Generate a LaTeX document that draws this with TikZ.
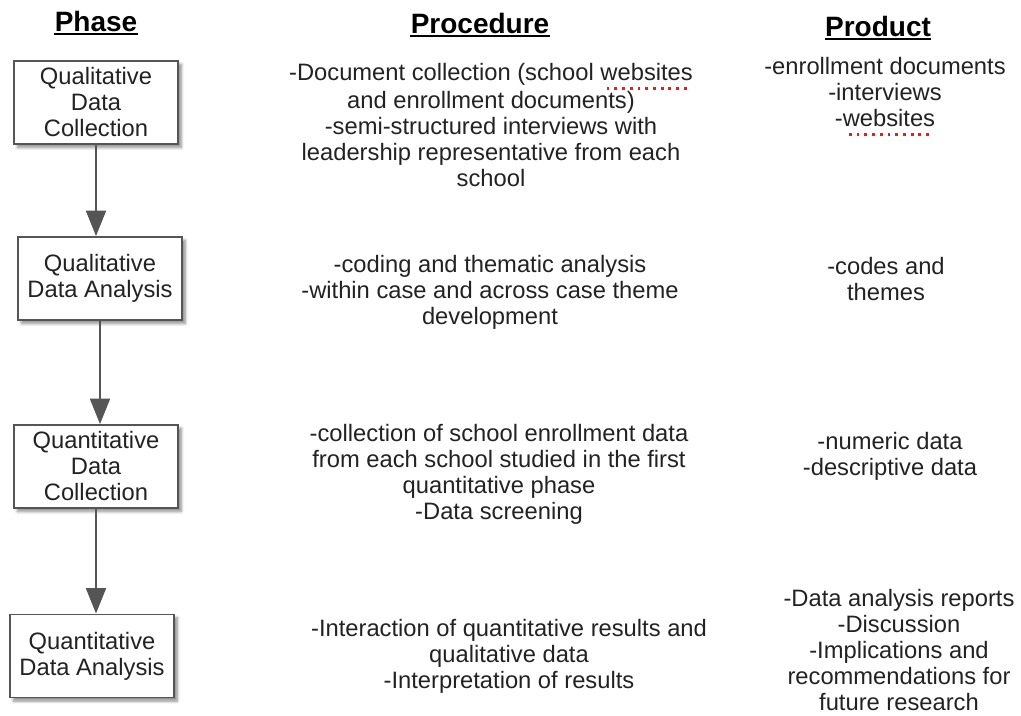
\documentclass[tikz,border=0pt]{standalone}
\usepackage{fontspec}
\setmainfont{Liberation Sans}
\usetikzlibrary{arrows.meta,shadows.blur}

\definecolor{inkgray}{HTML}{222222}
\definecolor{edgegray}{HTML}{555555}
\definecolor{spellred}{HTML}{E0201E}

% dotted red mark under a word
\newlength\squigwd
\newcommand\squig[1]{\settowidth\squigwd{#1}%
  \rlap{\color{spellred}\raisebox{-7pt}{\cleaders\hbox to 5.8pt{\hss\rule{2.1pt}{2.1pt}\hss}\hskip\squigwd}}#1}

\begin{document}
\begin{tikzpicture}[x=0.75pt,y=-0.75pt,
    every node/.style={text=inkgray,align=center,font=\fontsize{17.8pt}{19.5pt}\selectfont},
    phase node/.style={draw=edgegray,line width=1.2pt,fill=white,inner sep=2pt,
      minimum width=123pt,minimum height=62.5pt,
      blur shadow={shadow xshift=2.5pt,shadow yshift=-2.5pt,shadow blur steps=6,shadow opacity=45}},
    head node/.style={inner sep=0pt,anchor=base,text=black,
      font=\fontsize{21pt}{24pt}\selectfont\bfseries},
    flow/.style={draw=edgegray,line width=1.3pt,-{Triangle[width=15pt,length=19pt]}},
  ]
  \useasboundingbox (0,0) rectangle (1021,715);

  \node[head node] (hphase) at (96,31) {Phase};
  \node[head node] (hproc) at (480,33) {Procedure};
  \node[head node] (hprod) at (878,36) {Product};
  \foreach \h in {hphase,hproc,hprod}
    \draw[line width=1.5pt] ([yshift=-2.5pt]\h.base west) -- ([yshift=-2.5pt]\h.base east);

  \node[phase node] (ph1) at (96,102.5) {Qualitative\\Data\\Collection};
  \node[phase node] (ph2) at (100,278.5) {Qualitative\\Data Analysis};
  \node[phase node] (ph3) at (96,466.5) {Quantitative\\Data\\Collection};
  \node[phase node] (ph4) at (92,656) {Quantitative\\Data Analysis};
  \foreach \a/\b in {ph1/ph2,ph2/ph3,ph3/ph4}
    \draw[flow] (\a.south) -- (\a.south |- \b.north);

  \node (proc1) at (491,125) {-Document collection (school \squig{websites}\\and enrollment documents)\\-semi-structured interviews with\\leadership representative from each\\school};
  \node (proc2) at (490,292) {-coding and thematic analysis\\-within case and across case theme\\development};
  \node (proc3) at (499,474) {-collection of school enrollment data\\from each school studied in the first\\quantitative phase\\-Data screening};
  \node (proc4) at (509,656) {-Interaction of quantitative results and\\qualitative data\\-Interpretation of results};

  \node (prod1) at (885,97) {-enrollment documents\\-interviews\\-\squig{websites}};
  \node (prod2) at (886,279) {-codes and\\themes};
  \node (prod3) at (890,456) {-numeric data\\-descriptive data};
  \node (prod4) at (899,650) {-Data analysis reports\\-Discussion\\-Implications and\\recommendations for\\future research};
\end{tikzpicture}
\end{document}
